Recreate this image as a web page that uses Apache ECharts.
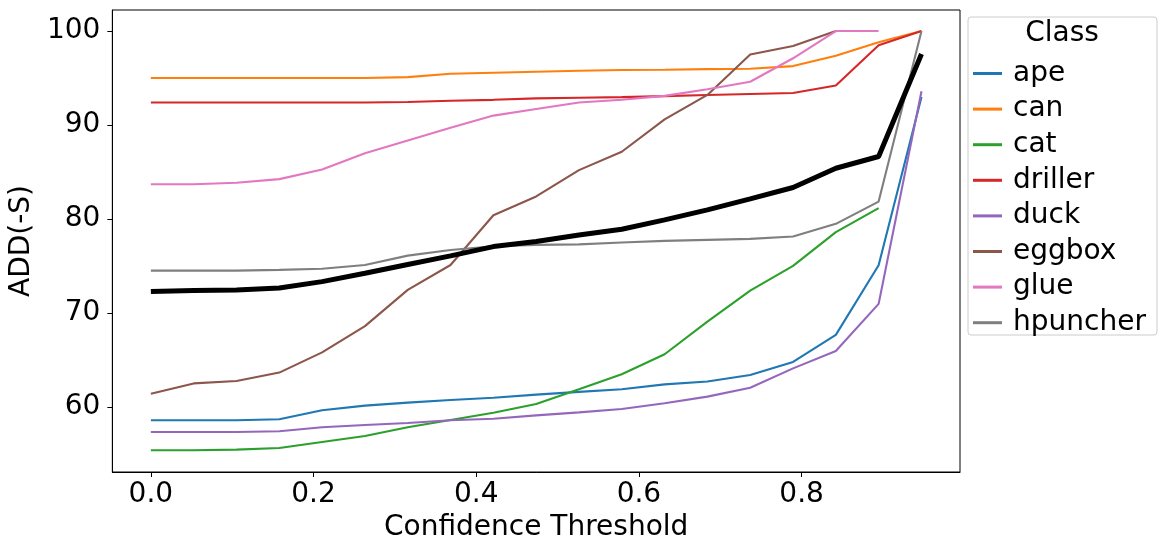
<!DOCTYPE html>
<html>
<head>
<meta charset="utf-8">
<script src="https://cdn.jsdelivr.net/npm/echarts@6.0.0/dist/echarts.min.js"></script>
<style>
  html, body { margin: 0; padding: 0; background: #fff; }
  #chart { width: 1166px; height: 553px; }
</style>
</head>
<body>
<div id="chart"></div>
<script>
// thresholds on the x axis
var thresholds = [0, 0.0526, 0.1053, 0.1579, 0.2105, 0.2632, 0.3158, 0.3684, 0.4211, 0.4737,
                  0.5263, 0.5789, 0.6316, 0.6842, 0.7368, 0.7895, 0.8421, 0.8947, 0.9474];

var classNames = ['ape', 'can', 'cat', 'driller', 'duck', 'eggbox', 'glue', 'hpuncher'];
var classColors = ['#1f77b4', '#ff7f0e', '#2ca02c', '#d62728', '#9467bd', '#8c564b', '#e377c2', '#7f7f7f'];

var ape      = [58.57, 58.57, 58.57, 58.68, 59.64, 60.13, 60.45, 60.73, 60.98, 61.3, 61.6, 61.87, 62.4, 62.7, 63.4, 64.78, 67.66, 75.08, 92.97];
var can      = [95.0, 95.0, 95.0, 95.0, 95.0, 95.0, 95.1, 95.45, 95.56, 95.67, 95.77, 95.85, 95.88, 95.95, 95.98, 96.27, 97.37, 98.8, 100];
var cat      = [55.38, 55.38, 55.45, 55.62, 56.26, 56.9, 57.83, 58.6, 59.38, 60.3, 61.87, 63.47, 65.6, 69.07, 72.38, 75.0, 78.6, 81.15, null];
var driller  = [92.4, 92.4, 92.4, 92.4, 92.4, 92.4, 92.45, 92.58, 92.68, 92.83, 92.9, 92.97, 93.07, 93.2, 93.3, 93.4, 94.2, 98.5, 100];
var duck     = [57.33, 57.33, 57.33, 57.4, 57.83, 58.07, 58.28, 58.57, 58.74, 59.1, 59.42, 59.78, 60.38, 61.09, 62.04, 64.1, 65.95, 70.96, 93.6];
var eggbox   = [61.4, 62.5, 62.76, 63.65, 65.8, 68.6, 72.45, 75.1, 80.4, 82.4, 85.2, 87.15, 90.6, 93.2, 97.5, 98.4, 100, null, null];
var glue     = [83.7, 83.7, 83.85, 84.24, 85.27, 87.0, 88.35, 89.7, 91.0, 91.7, 92.4, 92.68, 93.1, 93.8, 94.6, 97.1, 100, 100, null];
var hpuncher = [74.5, 74.5, 74.5, 74.58, 74.7, 75.1, 76.1, 76.7, 77.1, 77.24, 77.3, 77.5, 77.67, 77.78, 77.88, 78.13, 79.48, 81.85, 100];
// mean over classes (black line)
var meanAdd  = [72.27, 72.38, 72.45, 72.66, 73.33, 74.23, 75.15, 76.07, 77.06, 77.6, 78.3, 78.9, 79.9, 80.97, 82.14, 83.35, 85.4, 86.65, 97.55];

var xTicks = [0, 0.2, 0.4, 0.6, 0.8];
var yTicks = [60, 70, 80, 90, 100];

var classValues = [ape, can, cat, driller, duck, eggbox, glue, hpuncher];
var font = 'DejaVu Sans';

function pairs(values){
	var out = [];
	for(var i = 0; i < thresholds.length; i++){
		out.push([thresholds[i], values[i]]);
	}
	return out;
}

var series = [];
for(var k = 0; k < classNames.length; k++){
	series.push({
		name: classNames[k],
		type: 'line',
		data: pairs(classValues[k]),
		symbol: 'none',
		connectNulls: false,
		lineStyle: { width: 2.1, color: classColors[k] },
		itemStyle: { color: classColors[k] }
	});
}
series.push({
	name: 'mean',
	type: 'line',
	data: pairs(meanAdd),
	symbol: 'none',
	lineStyle: { width: 5, color: '#000' },
	itemStyle: { color: '#000' }
});

var chart = echarts.init(document.getElementById('chart'));
chart.setOption({
	animation: false,
	backgroundColor: '#fff',
	textStyle: { fontFamily: font },
	grid: {
		left: 109, right: 206, top: 10, bottom: 81,
		show: true, borderColor: '#000', borderWidth: 1
	},
	xAxis: {
		type: 'value',
		min: -0.047368, max: 0.994737,
		name: 'Confidence Threshold',
		nameLocation: 'middle',
		nameGap: 40,
		nameTextStyle: { fontSize: 28, color: '#000', fontFamily: font },
		axisLine: { show: true, onZero: false, lineStyle: { color: '#000', width: 1 } },
		axisTick: { show: true, length: 5, lineStyle: { color: '#000' }, customValues: xTicks },
		axisLabel: {
			fontSize: 28, color: '#000', fontFamily: font, margin: 9,
			customValues: xTicks,
			formatter: function(v){ return v.toFixed(1); }
		},
		splitLine: { show: false }
	},
	yAxis: {
		type: 'value',
		min: 53.07, max: 102.24,
		name: 'ADD(-S)',
		nameLocation: 'middle',
		nameGap: 73,
		nameTextStyle: { fontSize: 28, color: '#000', fontFamily: font },
		axisLine: { show: true, onZero: false, lineStyle: { color: '#000', width: 1 } },
		axisTick: { show: true, length: 5, lineStyle: { color: '#000' }, customValues: yTicks },
		axisLabel: { fontSize: 28, color: '#000', fontFamily: font, margin: 12, customValues: yTicks },
		splitLine: { show: false }
	},
	legend: {
		data: classNames,
		orient: 'vertical',
		left: 973,
		top: 59.5,
		padding: 0,
		itemWidth: 29,
		itemHeight: 3,
		itemGap: 7.6,
		icon: 'rect',
		textStyle: { fontSize: 28, color: '#000', fontFamily: font, lineHeight: 24, padding: [0, 0, 0, 6] }
	},
	graphic: [
		{
			type: 'rect',
			shape: { x: 968, y: 17, width: 189, height: 318, r: 3 },
			style: { fill: 'rgba(255,255,255,0.8)', stroke: '#cccccc', lineWidth: 1 },
			z: -1
		},
		{
			type: 'text',
			x: 1062, y: 34,
			style: {
				text: 'Class', fontSize: 28, fontFamily: font, fill: '#000',
				align: 'center', verticalAlign: 'middle'
			}
		}
	],
	series: series
});
</script>
</body>
</html>
